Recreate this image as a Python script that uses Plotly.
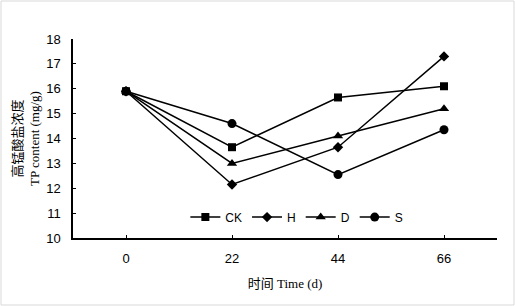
import plotly.graph_objects as go

days = ["0", "22", "44", "66"]
ck = [15.9, 13.65, 15.65, 16.1]
h = [15.9, 12.15, 13.65, 17.3]
d = [15.9, 13.0, 14.1, 15.2]
s = [15.9, 14.6, 12.55, 14.35]
names = ["CK", "H", "D", "S"]
symbols = ["square", "diamond", "triangle-up", "circle"]
sizes = [8, 8, 9, 9]

W, H = 515, 306
L, R, T, B = 73, 18, 39, 68
pw, ph = W - L - R, H - T - B

fig = go.Figure()
for name, vals, sym, sz in zip(names, [ck, h, d, s], symbols, sizes):
    fig.add_trace(go.Scatter(
        x=days, y=vals, name=name, mode="lines+markers",
        line=dict(color="black", width=1.5),
        marker=dict(symbol=sym, size=sz, color="black"),
    ))

title_font = dict(family="Liberation Serif, Noto Sans CJK SC", size=13, color="black")

fig.update_layout(
    width=W, height=H,
    margin=dict(l=L, r=R, t=T, b=B),
    paper_bgcolor="white", plot_bgcolor="white",
    font=dict(family="Liberation Sans, Arial", size=13, color="black"),
    showlegend=True,
    legend=dict(orientation="h", x=0.265, y=0.105, xanchor="left", yanchor="middle",
                bgcolor="rgba(0,0,0,0)", font=dict(size=12), itemwidth=30,
                tracegroupgap=0),
    xaxis=dict(type="category", range=[-0.5, 3.5], showline=True, linecolor="black",
               linewidth=1.5, ticks="inside", ticklen=3, tickcolor="black",
               showgrid=False, zeroline=False, ticklabelstandoff=8,
               title=dict(text="时间 Time (d)", font=title_font, standoff=14)),
    yaxis=dict(range=[10, 18], dtick=1, showline=True, linecolor="black", linewidth=1.5,
               ticks="inside", ticklen=3, tickcolor="black", showgrid=False, zeroline=False,
               ticklabelstandoff=8,
               title=dict(text="高锰酸盐浓度<br>TP content (mg/g)", font=title_font, standoff=4)),
    shapes=[dict(type="rect", xref="paper", yref="paper",
                 x0=-(L - 1) / pw, x1=1 + (R - 1) / pw,
                 y0=-(B - 1) / ph, y1=1 + (T - 1) / ph,
                 line=dict(color="#d9d9d9", width=1))],
)

fig.write_html("out.html", post_script="document.body.style.margin='0';",
               config={"displayModeBar": False})
